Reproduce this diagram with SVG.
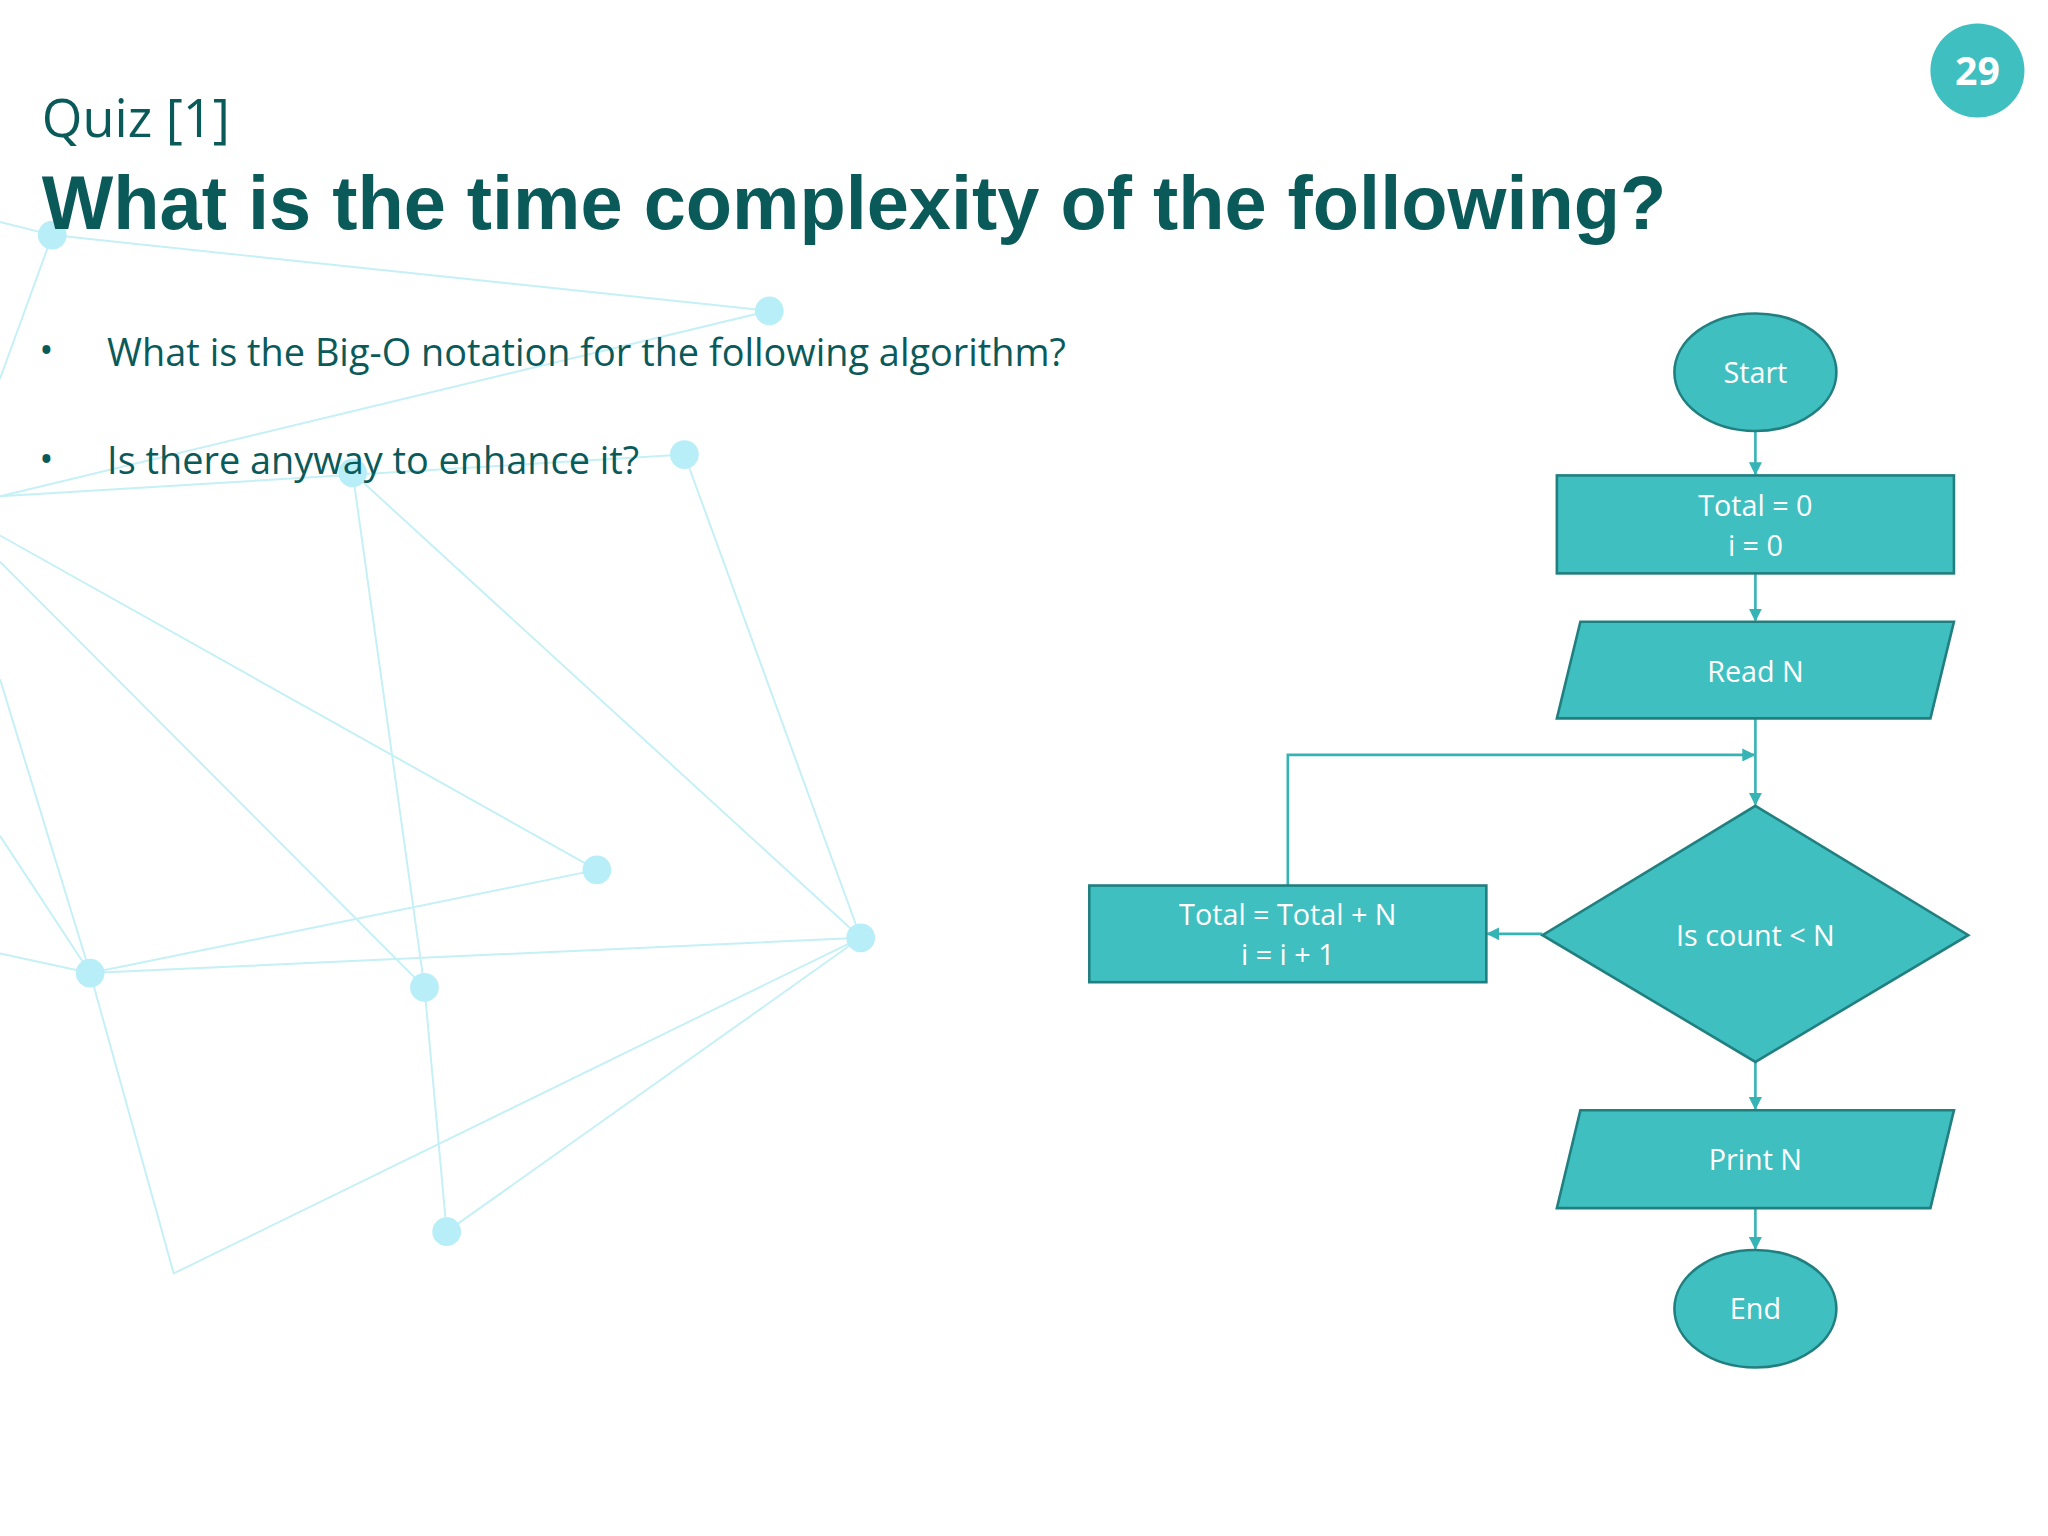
<svg xmlns="http://www.w3.org/2000/svg" width="2048" height="1536" viewBox="0 0 2048 1536">
<defs>
<style>
.bg{stroke:#c4f0f6;stroke-width:1.5;fill:none}
.dot{fill:#b8eef8}
.sh{fill:#40bfc1;stroke:#217f80;stroke-width:2}
.t{font-family:"Open Sans","Noto Sans",sans-serif;font-size:22px;fill:#ffffff;text-anchor:middle}
.c{stroke:#35b3b5;stroke-width:2;fill:none;marker-end:url(#a)}
</style>
<marker id="a" markerWidth="10" markerHeight="10" refX="9" refY="5" orient="auto" markerUnits="userSpaceOnUse"><path d="M0,0 L10,5 L0,10 z" fill="#35b3b5"/></marker>
</defs>
<rect width="2048" height="1536" fill="#ffffff"/>
<g transform="scale(1.3061)">
<g id="network">
<path class="bg" d="M0,170 L40,180 L589,238 L0,380 L524,348 L659,718 L270,362 L325,756 L342,943 L659,718 L133,975 L69,745 L659,718 M40,180 L0,290 M0,410 L457,666 L69,745 M0,430 L325,756 M0,520 L69,745 M0,640 L69,745 M0,730 L69,745"/>
<circle class="dot" cx="40" cy="180" r="11"/><circle class="dot" cx="589" cy="238" r="11"/><circle class="dot" cx="524" cy="348" r="11"/><circle class="dot" cx="270" cy="362" r="11"/><circle class="dot" cx="457" cy="666" r="11"/><circle class="dot" cx="659" cy="718" r="11"/><circle class="dot" cx="69" cy="745" r="11"/><circle class="dot" cx="325" cy="756" r="11"/><circle class="dot" cx="342" cy="943" r="11"/>
</g>
<g id="header">
<circle cx="1514" cy="54" r="36" fill="#3fbfbf"/>
<text x="1514" y="65" font-family="Open Sans,sans-serif" font-weight="bold" font-size="30" fill="#fff" text-anchor="middle">29</text>
<text x="32" y="105" font-family="Open Sans,sans-serif" font-size="40" fill="#0b5a5a">Quiz [1]</text>
<text x="32" y="175" font-family="Liberation Sans,Arial,sans-serif" font-weight="bold" font-size="58" fill="#0b5a5a">What is the time complexity of the following?</text>
<g font-family="Open Sans,sans-serif" font-size="29" fill="#0b5a5a">
<text x="30" y="279">•</text><text x="82" y="280">What is the Big-O notation for the following algorithm?</text>
<text x="30" y="362">•</text><text x="82" y="363">Is there anyway to enhance it?</text>
</g>
</g>
<g id="connectors">
<path class="c" d="M1344,330 L1344,363"/>
<path class="c" d="M1344,439 L1344,475"/>
<path class="c" d="M1344,550 L1344,616"/>
<path class="c" d="M986,678 L986,578 L1343,578"/>
<path class="c" d="M1181,715 L1139,715"/>
<path class="c" d="M1344,813 L1344,849"/>
<path class="c" d="M1344,925 L1344,956"/>
</g>
<g id="start"><ellipse class="sh" cx="1344" cy="285" rx="62" ry="45"/><text class="t" x="1344" y="293">Start</text></g>
<g id="init"><rect class="sh" x="1192" y="364" width="304" height="75"/><text class="t" x="1344" y="395">Total = 0</text><text class="t" x="1344" y="426">i = 0</text></g>
<g id="read"><polygon class="sh" points="1210,476 1496,476 1478,550 1192,550"/><text class="t" x="1344" y="522">Read N</text></g>
<g id="decision"><polygon class="sh" points="1344,617 1507,716 1344,813 1181,716"/><text class="t" x="1344" y="724">Is count &lt; N</text></g>
<g id="update"><rect class="sh" x="834" y="678" width="304" height="74"/><text class="t" x="986" y="708">Total = Total + N</text><text class="t" x="986" y="739">i = i + 1</text></g>
<g id="print"><polygon class="sh" points="1210,850 1496,850 1478,925 1192,925"/><text class="t" x="1344" y="896">Print N</text></g>
<g id="end"><ellipse class="sh" cx="1344" cy="1002" rx="62" ry="45"/><text class="t" x="1344" y="1010">End</text></g>
</g>
</svg>
